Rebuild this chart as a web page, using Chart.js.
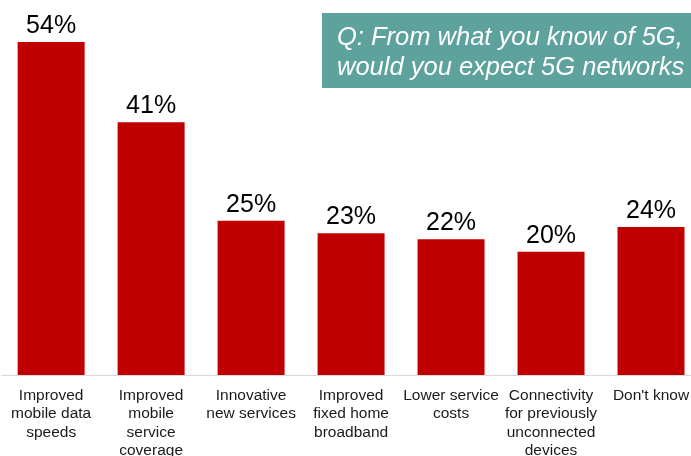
<!DOCTYPE html>
<html>
<head>
<meta charset="utf-8">
<script src="https://cdn.jsdelivr.net/npm/chart.js@4.4.1/dist/chart.umd.min.js"></script>
<style>
html,body{margin:0;padding:0;background:#fff;overflow:hidden;width:691px;height:456px;}
#wrap{position:relative;width:705px;height:456px;}
</style>
</head>
<body>
<div id="wrap"><canvas id="c" width="705" height="456"></canvas></div>
<script>
const categories = [
  ["Improved", "mobile data", "speeds"],
  ["Improved", "mobile", "service", "coverage"],
  ["Innovative", "new services"],
  ["Improved", "fixed home", "broadband"],
  ["Lower service", "costs"],
  ["Connectivity", "for previously", "unconnected", "devices"],
  ["Don't know"]
];
const values = [54, 41, 25, 23, 22, 20, 24];
const valueLabels = ["54%", "41%", "25%", "23%", "22%", "20%", "24%"];
const questionLines = ["Q: From what you know of 5G,", "would you expect 5G networks"];

const FONT = "Arial, 'Liberation Sans', Helvetica, sans-serif";

const labelPlugin = {
  id: 'valueLabels',
  afterDatasetsDraw(chart) {
    const ctx = chart.ctx;
    const meta = chart.getDatasetMeta(0);
    ctx.save();
    ctx.font = "25px " + FONT;
    ctx.fillStyle = "#000";
    ctx.textAlign = "center";
    ctx.textBaseline = "alphabetic";
    meta.data.forEach((bar, i) => {
      ctx.fillText(valueLabels[i], bar.x, bar.y - 9);
    });
    ctx.restore();
  }
};

const boxPlugin = {
  id: 'questionBox',
  afterDraw(chart) {
    const ctx = chart.ctx;
    ctx.save();
    ctx.fillStyle = "#5DA29C";
    ctx.fillRect(322, 13, 383, 75);
    ctx.font = "italic 25.5px " + FONT;
    ctx.fillStyle = "#fff";
    ctx.textAlign = "left";
    ctx.textBaseline = "alphabetic";
    ctx.fillText(questionLines[0], 337, 45);
    ctx.fillText(questionLines[1], 337, 75);
    ctx.restore();
  }
};

new Chart(document.getElementById('c'), {
  type: 'bar',
  data: {
    labels: categories,
    datasets: [{
      data: values,
      backgroundColor: '#C00000',
      borderWidth: 0,
      barPercentage: 0.67,
      categoryPercentage: 1.0
    }]
  },
  options: {
    responsive: false,
    animation: false,
    layout: { padding: { left: 1, right: 4, top: 5, bottom: 0 } },
    plugins: { legend: { display: false }, tooltip: { enabled: false } },
    scales: {
      x: {
        grid: { display: false, drawTicks: false },
        border: { display: true, color: '#D9D9D9', width: 1 },
        ticks: {
          color: '#1a1a1a',
          font: { family: FONT, size: 15.5, lineHeight: 1.2 },
          padding: 11,
          maxRotation: 0,
          autoSkip: false
        },
        afterFit(scale) { scale.height = 81; }
      },
      y: {
        display: false,
        min: 0,
        max: 60
      }
    }
  },
  plugins: [labelPlugin, boxPlugin]
});
</script>
</body>
</html>
